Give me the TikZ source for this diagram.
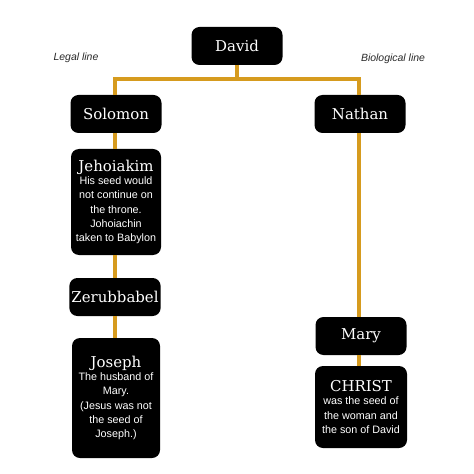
\documentclass[tikz,border=0pt]{standalone}
\usepackage{fontspec}
\setmainfont{Liberation Sans}
\newfontfamily\headfont{DejaVu Serif}
\definecolor{goldline}{RGB}{214,155,30}
\definecolor{labelgray}{RGB}{40,40,40}
\newcommand{\hd}[1]{{\headfont\fontsize{15}{16}\selectfont #1}}
\begin{document}
\begin{tikzpicture}[x=1bp,y=-1bp,
  box/.style={fill=black,rounded corners=8bp,text=white,align=center,inner sep=2bp,minimum width=91bp},
  head/.style={font=\headfont\fontsize{15}{16}\selectfont},
  body/.style={font=\fontsize{10.8}{14.3}\selectfont},
  conn/.style={draw=goldline,line width=3.2bp},
  lbl/.style={font=\itshape\fontsize{10.5}{12}\selectfont,text=labelgray}]
\useasboundingbox (0,0) rectangle (474,474);
\coordinate (split) at (237,79);
\coordinate (lx) at (115,0);
\coordinate (rx) at (359,0);
\node[box,head,minimum height=38bp] (david) at (237,46) {David};
\node[box,head,minimum height=38bp] (solomon) at (116,114) {Solomon};
\node[box,head,minimum height=38bp] (nathan) at (360,114) {Nathan};
\node[box,body,minimum height=106bp,minimum width=90bp] (jehoiakim) at (116,202)
  {\hd{Jehoiakim}\\[-1bp] His seed would\\not continue on\\the throne.\\Johoiachin\\taken to Babylon};
\node[box,head,minimum height=38bp] (zerub) at (115,297) {Zerubbabel};
\node[box,body,minimum height=120bp,minimum width=88bp] (joseph) at (116,398)
  {\hd{Joseph}\\[-1bp] The husband of\\Mary.\\(Jesus was not\\the seed of\\Joseph.)};
\node[box,head,minimum height=38bp] (mary) at (361,336) {Mary};
\node[box,body,minimum height=82bp,minimum width=92bp] (christ) at (361,407)
  {\hd{CHRIST}\\[-1bp] was the seed of\\the woman and\\the son of David};
\node[lbl] (legal) at (76,58) {Legal line};
\node[lbl] (bio) at (393,59) {Biological line};
\draw[conn] (david.south) -- (split);
\draw[conn] (split) -| (solomon.north -| lx);
\draw[conn] (split) -| (nathan.north -| rx);
\draw[conn] (solomon.south -| lx) -- (jehoiakim.north -| lx);
\draw[conn] (jehoiakim.south -| lx) -- (zerub.north -| lx);
\draw[conn] (zerub.south -| lx) -- (joseph.north -| lx);
\draw[conn] (nathan.south -| rx) -- (mary.north -| rx);
\draw[conn] (mary.south -| rx) -- (christ.north -| rx);
\end{tikzpicture}
\end{document}
